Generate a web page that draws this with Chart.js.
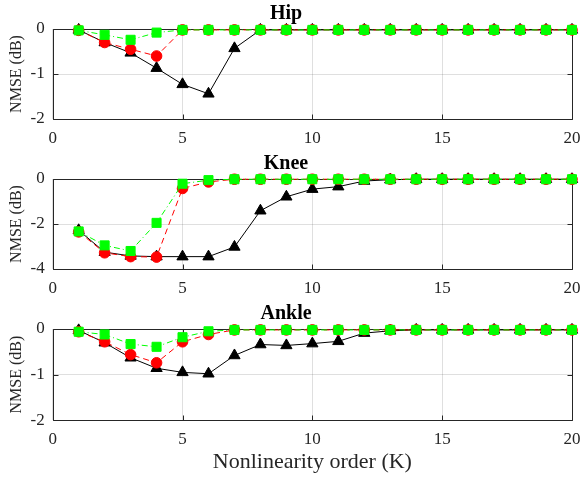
<!DOCTYPE html>
<html><head><meta charset="utf-8">
<script src="https://cdn.jsdelivr.net/npm/chart.js@4"></script>
<style>
html,body{margin:0;padding:0;background:#fff;}
#wrap{position:relative;width:582px;height:477px;}
canvas{position:absolute;left:0;}
</style></head><body>
<div id="wrap">
<canvas id="c1" width="582" height="150" style="top:0"></canvas>
<canvas id="c2" width="582" height="150" style="top:150px"></canvas>
<canvas id="c3" width="582" height="177" style="top:300px"></canvas>
</div>
<script>
const orders = [1,2,3,4,5,6,7,8,9,10,11,12,13,14,15,16,17,18,19,20];

const hipBlack = [-0.02,-0.30,-0.53,-0.87,-1.23,-1.44,-0.43,-0.02,-0.02,-0.02,-0.02,-0.02,-0.02,-0.02,-0.02,-0.02,-0.02,-0.02,-0.02,-0.02];
const hipRed   = [-0.03,-0.30,-0.45,-0.60,-0.02,-0.02,-0.02,-0.02,-0.02,-0.02,-0.02,-0.02,-0.02,-0.02,-0.02,-0.02,-0.02,-0.02,-0.02,-0.02];
const hipGreen = [-0.03,-0.13,-0.24,-0.08,-0.02,-0.02,-0.02,-0.02,-0.02,-0.02,-0.02,-0.02,-0.02,-0.02,-0.02,-0.02,-0.02,-0.02,-0.02,-0.02];

const kneeBlack = [-2.28,-3.25,-3.42,-3.45,-3.45,-3.45,-3.02,-1.41,-0.79,-0.45,-0.34,-0.09,-0.03,-0.01,-0.01,-0.01,-0.01,-0.01,-0.01,-0.01];
const kneeRed   = [-2.35,-3.28,-3.45,-3.47,-0.42,-0.13,-0.01,-0.01,-0.01,-0.01,-0.01,-0.01,-0.01,-0.01,-0.01,-0.01,-0.01,-0.01,-0.01,-0.01];
const kneeGreen = [-2.33,-2.95,-3.20,-1.95,-0.21,-0.05,-0.01,-0.01,-0.01,-0.01,-0.01,-0.01,-0.01,-0.01,-0.01,-0.01,-0.01,-0.01,-0.01,-0.01];

const ankleBlack = [-0.03,-0.30,-0.63,-0.86,-0.95,-0.98,-0.58,-0.34,-0.36,-0.32,-0.27,-0.09,-0.04,-0.02,-0.02,-0.02,-0.02,-0.02,-0.02,-0.02];
const ankleRed   = [-0.06,-0.28,-0.56,-0.74,-0.28,-0.12,-0.02,-0.02,-0.02,-0.02,-0.02,-0.02,-0.02,-0.02,-0.02,-0.02,-0.02,-0.02,-0.02,-0.02];
const ankleGreen = [-0.06,-0.12,-0.33,-0.39,-0.18,-0.05,-0.02,-0.02,-0.02,-0.02,-0.02,-0.02,-0.02,-0.02,-0.02,-0.02,-0.02,-0.02,-0.02,-0.02];

const xTicks = [0,5,10,15,20];
const titles = ['Hip','Knee','Ankle'];
const yLabel = 'NMSE (dB)';
const xLabel = 'Nonlinearity order (K)';

const SERIF = "'Liberation Serif', 'Times New Roman', serif";
const AX = '#262626';
const GRID = 'rgba(38,38,38,0.15)';

const boxTicks = {
  id: 'boxTicks',
  beforeDatasetsDraw(chart) {
    const {ctx, chartArea: a, scales} = chart;
    ctx.save();
    ctx.strokeStyle = AX;
    ctx.lineWidth = 1;
    const L = Math.round(a.left) + 0.5, R = Math.round(a.right) + 0.5;
    const T = Math.round(a.top) + 0.5, B = Math.round(a.bottom) + 0.5;
    ctx.beginPath();
    ctx.rect(L, T, R - L, B - T);
    const tl = 5;
    scales.x.ticks.forEach(t => {
      const px = Math.round(scales.x.getPixelForValue(t.value)) + 0.5;
      ctx.moveTo(px, B); ctx.lineTo(px, B - tl);
      ctx.moveTo(px, T); ctx.lineTo(px, T + tl);
    });
    scales.y.ticks.forEach(t => {
      const py = Math.round(scales.y.getPixelForValue(t.value)) + 0.5;
      ctx.moveTo(L, py); ctx.lineTo(L + tl, py);
      ctx.moveTo(R, py); ctx.lineTo(R - tl, py);
    });
    ctx.stroke();
    ctx.restore();
  }
};

function pts(arr) { return orders.map((k, i) => ({x: k, y: arr[i]})); }

function makeChart(id, title, black, red, green, yMin, yStep, xHeight, showXLabel) {
  return new Chart(document.getElementById(id), {
    type: 'line',
    data: {
      datasets: [
        {data: pts(black), borderColor: '#000', backgroundColor: '#000', borderWidth: 1, clip: false,
         pointStyle: 'triangle', pointRadius: 6.5, pointBorderColor: '#000', pointBackgroundColor: '#000', pointBorderWidth: 1, order: 3, tension: 0},
        {data: pts(red), borderColor: '#ff0000', backgroundColor: '#ff0000', borderWidth: 1, borderDash: [6, 4], clip: false,
         pointStyle: 'circle', pointRadius: 5.3, pointBorderColor: '#ff0000', pointBackgroundColor: '#ff0000', pointBorderWidth: 1, order: 2, tension: 0},
        {data: pts(green), borderColor: '#00ff00', backgroundColor: '#00ff00', borderWidth: 1, borderDash: [6, 3, 1, 3], clip: false,
         pointStyle: 'rect', pointRadius: 6.4, pointBorderColor: '#00ff00', pointBackgroundColor: '#00ff00', pointBorderWidth: 1, order: 1, tension: 0}
      ]
    },
    options: {
      responsive: false,
      animation: false,
      events: [],
      layout: {padding: {left: 0, right: 10, top: 0, bottom: 0}},
      plugins: {
        legend: {display: false},
        tooltip: {enabled: false},
        title: {display: true, text: title, color: '#000',
                font: {family: SERIF, size: 20, weight: 'bold'}, padding: {top: 2, bottom: 3}}
      },
      scales: {
        x: {
          type: 'linear', min: 0, max: 20,
          afterBuildTicks(s) { s.ticks = xTicks.map(v => ({value: v})); },
          ticks: {font: {family: SERIF, size: 17}, color: AX, padding: 9, maxRotation: 0},
          grid: {color: GRID, drawTicks: false},
          border: {display: false},
          afterFit(s) { s.height = xHeight; s.paddingLeft = 0; s.paddingRight = 0; },
          title: {display: showXLabel, text: xLabel, color: AX,
                  font: {family: SERIF, size: 22}, padding: {top: 0, bottom: 2}}
        },
        y: {
          type: 'linear', min: yMin, max: 0,
          ticks: {stepSize: yStep, font: {family: SERIF, size: 17}, color: AX, padding: 8},
          grid: {color: GRID, drawTicks: false},
          border: {display: false},
          afterFit(s) { s.width = 52.7; s.paddingTop = 0; s.paddingBottom = 0; },
          title: {display: true, text: yLabel, color: AX,
                  font: {family: SERIF, size: 16}, padding: {top: 7, bottom: 0}}
        }
      }
    },
    plugins: [boxTicks]
  });
}

makeChart('c1', titles[0], hipBlack, hipRed, hipGreen, -2, 1, 31, false);
makeChart('c2', titles[1], kneeBlack, kneeRed, kneeGreen, -4, 2, 31, false);
makeChart('c3', titles[2], ankleBlack, ankleRed, ankleGreen, -2, 1, 56.7, true);
</script>
</body></html>
